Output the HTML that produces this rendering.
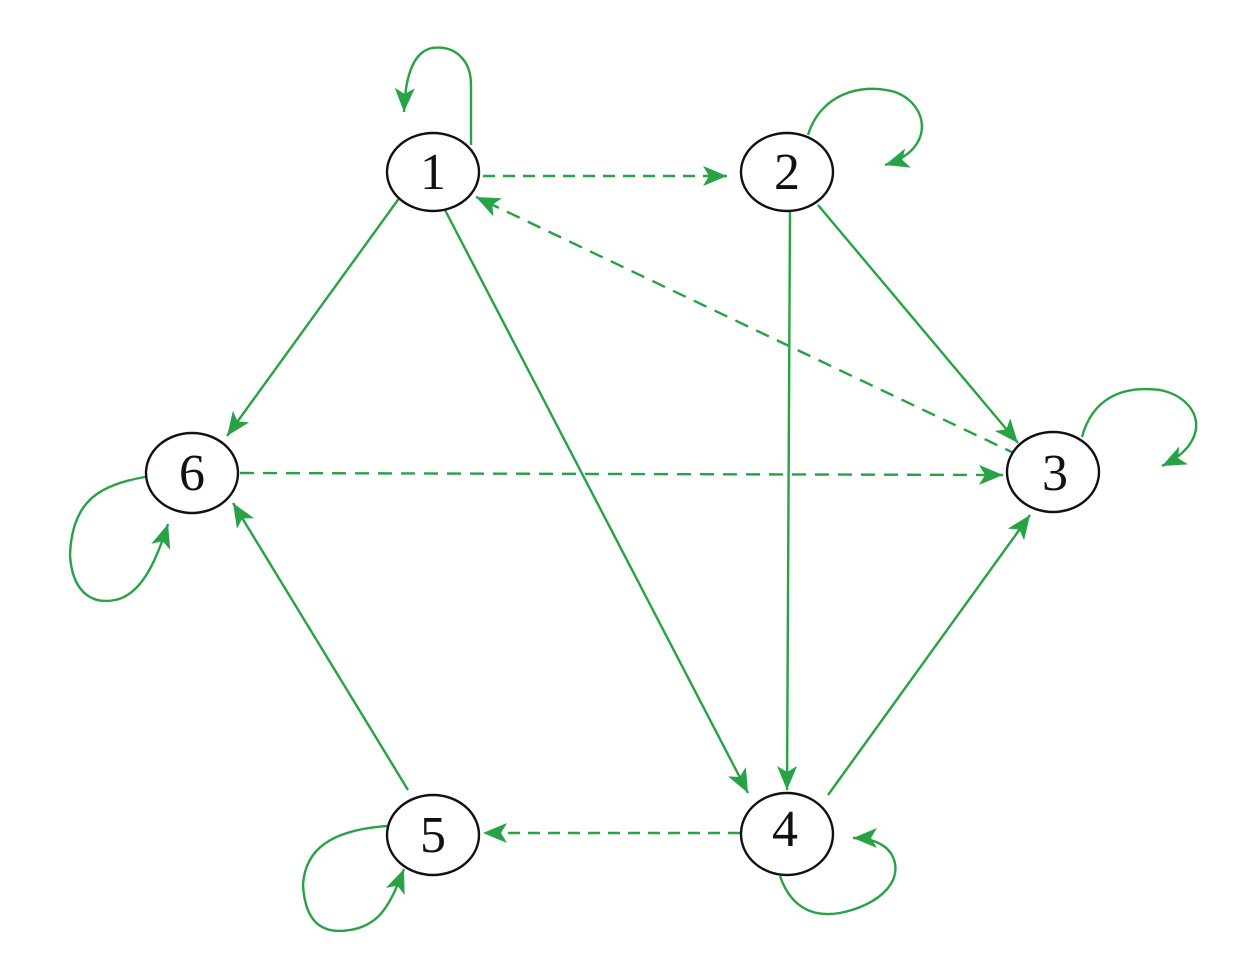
<!DOCTYPE html>
<html><head><style>body{margin:0;background:#fff}</style></head><body>
<svg width="1243" height="953" xmlns="http://www.w3.org/2000/svg">
<defs>
<marker id="a" viewBox="0 0 10 10" refX="9" refY="5" markerWidth="10" markerHeight="10" markerUnits="userSpaceOnUse" orient="auto" style="overflow:visible">
<path d="M-15,-5 L9,5 L-15,15 L-9,5 Z" fill="#27a244"/>
</marker>
</defs>
<g fill="none" stroke="#27a244" stroke-width="2.4" marker-end="url(#a)">
<line x1="483" y1="176" x2="727" y2="176" stroke-dasharray="12,8"/>
<line x1="1018" y1="455" x2="476" y2="197" stroke-dasharray="14,9"/>
<line x1="400" y1="197" x2="227" y2="436"/>
<line x1="445" y1="210" x2="748" y2="793"/>
<line x1="790" y1="210" x2="787" y2="790"/>
<line x1="818" y1="205" x2="1018" y2="443"/>
<line x1="240" y1="473" x2="1003" y2="475" stroke-dasharray="14,9"/>
<line x1="828" y1="795" x2="1030" y2="515"/>
<line x1="408" y1="790" x2="233" y2="503"/>
<line x1="740" y1="833" x2="483" y2="833" stroke-dasharray="12,8"/>
<path d="M471,145 L471,85 C471,60 455,45 432,48 C412,52 405,80 404,112"/>
<path d="M808,135 C820,95 860,82 895,92 C930,105 935,150 885,165"/>
<path d="M1082,437 C1092,400 1120,385 1160,390 C1200,398 1215,440 1162,466"/>
<path d="M145,477 C100,485 72,500 70,555 C72,590 90,605 115,600 C140,595 155,565 168,524"/>
<path d="M387,826 C330,830 305,850 303,885 C305,920 320,935 350,930 C380,925 390,905 404,869"/>
<path d="M780,876 C790,905 810,918 840,913 C880,905 905,880 892,855 C885,843 870,838 853,838"/>
</g>
<g fill="#fff" stroke="#111" stroke-width="2.4">
<ellipse cx="433" cy="172" rx="46" ry="39"/>
<ellipse cx="787" cy="172" rx="46" ry="39"/>
<ellipse cx="1053" cy="472" rx="46" ry="40"/>
<ellipse cx="787" cy="834" rx="46" ry="41"/>
<ellipse cx="433" cy="835" rx="46" ry="40"/>
<ellipse cx="192" cy="473" rx="46" ry="40"/>
</g>
<g font-family="Liberation Serif, serif" font-size="52" text-anchor="middle" fill="#111">
<text x="433" y="189">1</text>
<text x="787" y="189">2</text>
<text x="1055" y="490">3</text>
<text x="785" y="846">4</text>
<text x="433" y="852">5</text>
<text x="192" y="490">6</text>
</g>
</svg>
</body></html>
